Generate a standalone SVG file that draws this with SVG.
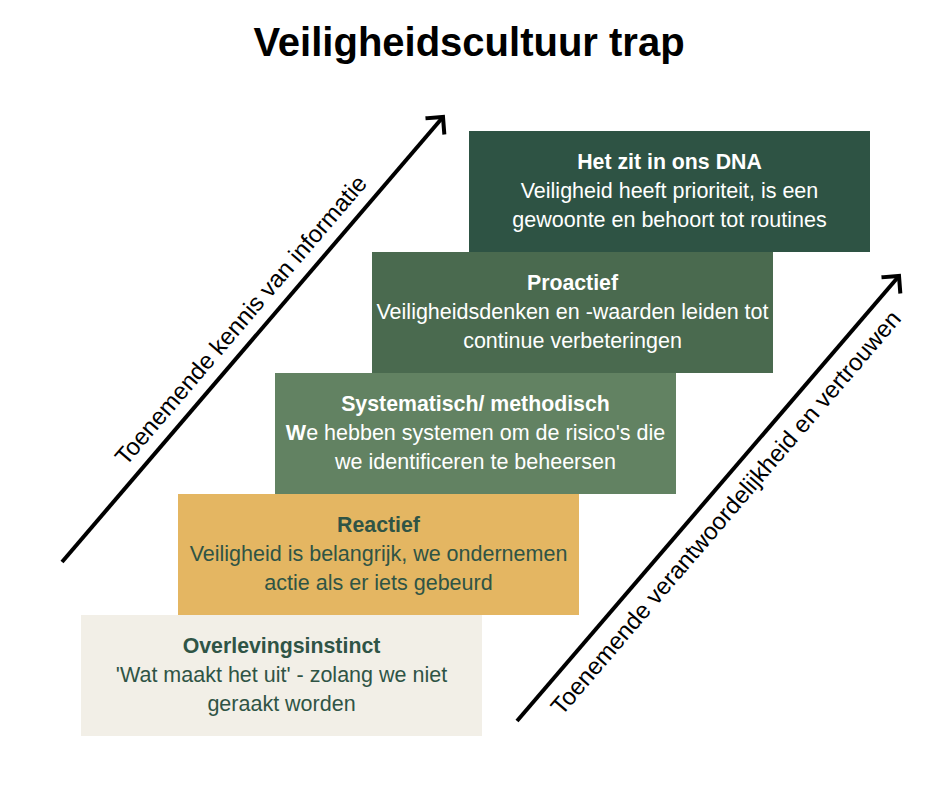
<svg xmlns="http://www.w3.org/2000/svg" width="940" height="788" viewBox="0 0 940 788">
<defs>
<style>
text { font-family: "Liberation Sans", Arial, sans-serif; }
.title { font-size: 40px; font-weight: bold; fill: #000; text-anchor: middle; }
.h { font-size: 21.3px; font-weight: bold; text-anchor: middle; }
.b { font-size: 21.5px; text-anchor: middle; }
.light { fill: #ffffff; }
.dark { fill: #2f5445; }
.axis { font-size: 24px; fill: #000; text-anchor: middle; }
.arrow { stroke: #000; stroke-width: 4; fill: none; }
</style>
<marker id="head" markerUnits="userSpaceOnUse" markerWidth="30" markerHeight="30" viewBox="-15 -15 30 30" refX="0" refY="0" orient="auto">
<path d="M-11,-11 L0,0 L-11,11" fill="none" stroke="#000" stroke-width="4" stroke-linecap="square"/>
</marker>
</defs>
<rect width="940" height="788" fill="#ffffff"/>
<text class="title" x="469" y="56">Veiligheidscultuur trap</text>

<g id="step5">
<rect x="81" y="615" width="401" height="121" fill="#f2efe7"/>
<text class="h dark" x="281.5" y="653">Overlevingsinstinct</text>
<text class="b dark" x="281.5" y="682">'Wat maakt het uit' - zolang we niet</text>
<text class="b dark" x="281.5" y="711">geraakt worden</text>
</g>
<g id="step4">
<rect x="178" y="494" width="401" height="121" fill="#e4b662"/>
<text class="h dark" x="378.5" y="532">Reactief</text>
<text class="b dark" x="378.5" y="561">Veiligheid is belangrijk, we ondernemen</text>
<text class="b dark" x="378.5" y="590">actie als er iets gebeurd</text>
</g>
<g id="step3">
<rect x="275" y="373" width="401" height="121" fill="#628262"/>
<text class="h light" x="475.5" y="411">Systematisch/ methodisch</text>
<text class="b light" x="475.5" y="440"><tspan font-weight="bold">W</tspan>e hebben systemen om de risico's die</text>
<text class="b light" x="475.5" y="469">we identificeren te beheersen</text>
</g>
<g id="step2">
<rect x="372" y="252" width="401" height="121" fill="#4a6a4f"/>
<text class="h light" x="572.5" y="290">Proactief</text>
<text class="b light" x="572.5" y="319">Veiligheidsdenken en -waarden leiden tot</text>
<text class="b light" x="572.5" y="348">continue verbeteringen</text>
</g>
<g id="step1">
<rect x="469" y="131" width="401" height="121" fill="#2e5344"/>
<text class="h light" x="669.5" y="169">Het zit in ons DNA</text>
<text class="b light" x="669.5" y="198">Veiligheid heeft prioriteit, is een</text>
<text class="b light" x="669.5" y="227">gewoonte en behoort tot routines</text>
</g>

<g id="connectors">
<line class="arrow" x1="62" y1="562" x2="443" y2="117" marker-end="url(#head)"/>
<line class="arrow" x1="517" y1="721" x2="899" y2="276" marker-end="url(#head)"/>
</g>
<g id="axis-labels">
<text class="axis" transform="translate(247,325.5) rotate(-49.4)">Toenemende kennis van informatie</text>
<text class="axis" transform="translate(732,518) rotate(-49.4)">Toenemende verantwoordelijkheid en vertrouwen</text>
</g>
</svg>
